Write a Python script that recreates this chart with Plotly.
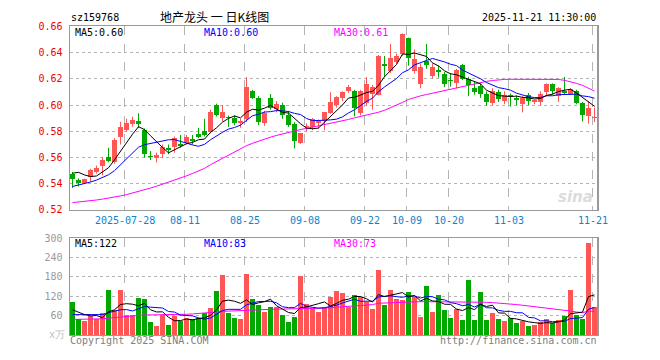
import plotly.graph_objects as go
import pandas as pd

# ---------------- data ----------------
opens = [.5477,.5428,.5409,.5453,.5490,.5532,.5600,.5563,.5753,.5809,
         .5858,.5875,.5809,.5613,.5595,.5625,.5669,.5679,.5706,.5711,
         .5743,.5777,.5804,.5797,.5998,.5900,.5912,.5900,.5866,.5895,
         .6104,.6055,.5866,.6055,.5973,.5998,.5924,.5858,.5711,.5829,
         .5834,.5865,.5876,.5939,.5998,.6055,.6104,.6104,.5939,.6018,
         .6087,.6079,.6313,.6259,.6325,.6386,.6509,.6263,.6158,.6332,
         .6221,.6267,.6239,.6190,.6165,.6305,.6202,.6132,.6146,.6087,
         .6018,.6096,.6030,.6075,.6052,.6006,.6079,.6025,.6023,.6096,
         .6158,.6067,.6104,.6087,.6109,.6018,.5920,.5902]
highs = [.5490,.5441,.5438,.5514,.5539,.5600,.5674,.5748,.5871,.5895,
         .5912,.5937,.5821,.5649,.5637,.5699,.5699,.5760,.5772,.5772,
         .5772,.5826,.5895,.5964,.6010,.5998,.5920,.5920,.5895,.6214,
         .6116,.6067,.5956,.6084,.6030,.6018,.5956,.5870,.5784,.5860,
         .5901,.5890,.5944,.6097,.6067,.6104,.6153,.6116,.6116,.6214,
         .6153,.6381,.6374,.6465,.6391,.6546,.6514,.6423,.6317,.6465,
         .6317,.6300,.6251,.6244,.6276,.6313,.6214,.6178,.6165,.6104,
         .6128,.6116,.6104,.6087,.6072,.6067,.6092,.6042,.6104,.6165,
         .6165,.6136,.6214,.6128,.6116,.6023,.6030,.5981]
lows = [.5367,.5379,.5399,.5416,.5477,.5465,.5563,.5551,.5699,.5797,
        .5834,.5826,.5600,.5581,.5563,.5595,.5625,.5637,.5674,.5699,
        .5699,.5748,.5760,.5784,.5912,.5875,.5834,.5846,.5826,.5870,
        .6047,.5846,.5841,.5964,.5944,.5895,.5834,.5669,.5703,.5797,
        .5809,.5820,.5809,.5932,.5981,.6030,.6092,.5915,.5920,.5993,
        .5964,.6072,.6214,.6244,.6313,.6374,.6300,.6239,.6128,.6276,
        .6202,.6209,.6136,.6141,.6128,.6190,.6067,.6079,.6055,.5993,
        .5998,.6023,.6006,.5988,.5998,.5944,.5998,.6006,.5993,.6067,
        .6079,.6023,.6079,.6079,.6006,.5875,.5858,.5870]
closes = [.5433,.5404,.5433,.5502,.5522,.5581,.5571,.5735,.5834,.5863,
          .5883,.5858,.5625,.5600,.5620,.5679,.5654,.5748,.5691,.5753,
          .5728,.5757,.5772,.5949,.5924,.5944,.5900,.5866,.5875,.6141,
          .6055,.5870,.5939,.5981,.6005,.5924,.5846,.5728,.5784,.5841,
          .5895,.5876,.5944,.6023,.6062,.6097,.6141,.5974,.6104,.6160,
          .6141,.6374,.6298,.6357,.6374,.6539,.6362,.6350,.6293,.6307,
          .6293,.6249,.6160,.6182,.6267,.6202,.6155,.6097,.6087,.6023,
          .6104,.6047,.6079,.6068,.6042,.6055,.6030,.6035,.6087,.6158,
          .6104,.6128,.6089,.6121,.6018,.5925,.5974,.5912]
volumes = [103,48,44,58,48,69,139,76,139,61,
           61,115,112,40,28,63,31,58,43,52,
           49,52,69,82,136,184,68,52,49,190,
           112,94,70,88,88,61,40,55,181,96,
           82,70,82,117,137,130,87,124,117,102,
           79,202,94,139,112,109,133,118,55,151,
           70,124,76,52,79,46,169,46,133,46,
           67,49,43,52,37,43,28,31,40,49,
           37,46,58,139,61,49,286,85]

# moving-average values visible at the start of the window (history not shown)
ma5_head = [.5480,.5487,.5467,.5455]
ma10_head = [.5379,.5390,.5400,.5413,.5428,.5447,.5468,.5500,.5545]
ma30_line = [.5256,.5260,.5265,.5270,.5276,.5283,.5290,.5298,.5307,.5317,
             .5328,.5340,.5353,.5367,.5381,.5396,.5411,.5427,.5443,.5460,
             .5478,.5497,.5517,.5545,.5570,.5595,.5620,.5645,.5668,.5690,
             .5708,.5725,.5740,.5755,.5768,.5780,.5792,.5803,.5813,.5822,
             .5831,.5840,.5849,.5858,.5868,.5878,.5890,.5902,.5912,.5922,
             .5932,.5945,.5960,.5978,.5998,.6020,.6042,.6058,.6070,.6080,
             .6090,.6100,.6110,.6120,.6132,.6143,.6155,.6165,.6173,.6180,
             .6187,.6192,.6195,.6196,.6196,.6196,.6196,.6196,.6196,.6196,
             .6196,.6195,.6188,.6178,.6165,.6150,.6130,.6106]
vma5_head = [78,71,63,59]
vma10_head = [63,63,64,65,64,63,69,74,78]
vma30_line = [48,48,48,49,49,50,52,54,56,58,
              60,61,62,62,62,63,63,63,64,64,
              65,66,67,69,71,73,74,75,76,77,
              78,79,79,80,80,80,81,81,81,82,
              82,82,83,84,86,88,89,90,91,92,
              94,98,99,100,101,102,103,103,103,103,
              103,103,103,103,103,103,103,103,102,101,
              100,99,97,96,94,92,90,88,86,84,
              82,79,77,74,71,69,74,73]

# values printed in the legend texts of the reference
price_ma_now = ["0.60", "0.60", "0.61"]
vol_ma_now = ["122", "83", "73"]

tick_idx = [9, 19, 29, 39, 49, 56, 63, 73, 87]
tick_labels = ["2025-07-28", "08-11", "08-25", "09-08", "09-22",
               "10-09", "10-20", "11-03", "11-21"]
price_ticks = [0.52, 0.54, 0.56, 0.58, 0.60, 0.62, 0.64, 0.66]
vol_ticks = [60, 120, 180, 240, 300]

# ---------------- derived ----------------
n = len(closes)
idx = list(range(n))
cs = pd.Series(closes)
vs = pd.Series(volumes, dtype=float)
ma5 = cs.rolling(5).mean().tolist()
ma10 = cs.rolling(10).mean().tolist()
ma5[:len(ma5_head)] = ma5_head
ma10[:len(ma10_head)] = ma10_head
vma5 = vs.rolling(5).mean().tolist()
vma10 = vs.rolling(10).mean().tolist()
vma5[:len(vma5_head)] = vma5_head
vma10[:len(vma10_head)] = vma10_head

UP = "#ff5555"
DN = "#00a800"
is_up = [c >= o for o, c in zip(opens, closes)]
colors = [UP if u else DN for u in is_up]
MIN_BODY = 0.0008
body_base = [min(o, c) for o, c in zip(opens, closes)]
body_h = [max(abs(c - o), MIN_BODY) for o, c in zip(opens, closes)]

W, H = 660, 360
L, R = 70, 597
PT, PB = 21, 211
VT, VB = 240, 340.3

def px(x):
    return x / W

def py(y):
    return 1 - y / H

fig = go.Figure()

# wicks
for flag, col in ((True, UP), (False, DN)):
    wx, wy = [], []
    for i in idx:
        if is_up[i] == flag:
            wx += [i, i, None]
            wy += [lows[i], highs[i], None]
    fig.add_trace(go.Scatter(x=wx, y=wy, mode="lines", line=dict(color=col, width=1),
                             hoverinfo="skip", showlegend=False, xaxis="x", yaxis="y"))

# bodies
fig.add_trace(go.Bar(x=idx, y=body_h, base=body_base, width=0.8,
                     marker=dict(color=colors, line=dict(width=0)),
                     hoverinfo="skip", showlegend=False, xaxis="x", yaxis="y"))

# price MAs
for arr, col in ((ma30_line, "#ff00ff"), (ma10, "#0000ff"), (ma5, "#000000")):
    fig.add_trace(go.Scatter(x=idx, y=arr, mode="lines", line=dict(color=col, width=1),
                             hoverinfo="skip", showlegend=False, xaxis="x", yaxis="y"))

# volume bars
fig.add_trace(go.Bar(x=idx, y=volumes, width=0.8,
                     marker=dict(color=colors, line=dict(width=0)),
                     hoverinfo="skip", showlegend=False, xaxis="x2", yaxis="y2"))
for arr, col in ((vma30_line, "#ff00ff"), (vma10, "#0000ff"), (vma5, "#000000")):
    fig.add_trace(go.Scatter(x=idx, y=arr, mode="lines", line=dict(color=col, width=1),
                             hoverinfo="skip", showlegend=False, xaxis="x2", yaxis="y2"))

MONO = "DejaVu Sans Mono"
grid_x = [k - 1/3 for k in tick_idx]
xr = [(L - 72.5) / 6, (R - 72.5) / 6]
axis_common = dict(showline=True, mirror=True, linecolor="#999999", linewidth=1.5,
                   zeroline=False, ticks="")

fig.update_layout(
    width=W, height=H, margin=dict(l=0, r=0, t=0, b=0, pad=0),
    paper_bgcolor="white", plot_bgcolor="white",
    barmode="overlay", bargap=0, showlegend=False, hovermode=False,
    font=dict(family=MONO, size=10, color="#000"),
    xaxis=dict(domain=[px(L), px(R)], range=xr, anchor="y",
               tickvals=grid_x, showticklabels=False,
               showgrid=True, gridcolor="#b4b4b4", griddash="dash", gridwidth=1,
               **axis_common),
    xaxis2=dict(domain=[px(L), px(R)], range=xr, anchor="y2",
                tickvals=grid_x, showticklabels=False,
                showgrid=True, gridcolor="#b4b4b4", griddash="dash", gridwidth=1,
                **axis_common),
    yaxis=dict(domain=[py(PB), py(PT)], range=[0.52, 0.66], anchor="x",
               tickvals=price_ticks, tickformat=".2f",
               tickfont=dict(family=MONO, size=10, color="#ee0000"),
               showgrid=True, gridcolor="#b4b4b4", griddash="dot", gridwidth=1,
               ticklabelstandoff=4, **axis_common),
    yaxis2=dict(domain=[py(VB), py(VT)], range=[0, 300], anchor="x2",
                tickvals=vol_ticks,
                tickfont=dict(family=MONO, size=10, color="#999999"),
                showgrid=True, gridcolor="#b4b4b4", griddash="dot", gridwidth=1,
                ticklabelstandoff=4, **axis_common),
)

def note(text, x, y, color="#000", size=10, xanchor="left", family=MONO, xref="paper"):
    fig.add_annotation(text=text, x=px(x) if xref == "paper" else x, y=py(y),
                       xref=xref, yref="paper",
                       xanchor=xanchor, yanchor="middle", showarrow=False,
                       borderpad=0,
                       font=dict(family=family, size=size, color=color))

# date labels under the price panel, centred on the dashed grid lines
for gx, lab in zip(grid_x, tick_labels):
    note(lab, gx, 222, color="#0a84d0", xanchor="center", xref="x")

note("sz159768", 70, 12)
note("地产龙头 一 日K线图", 214, 11, size=12, xanchor="center",
     family="Noto Sans CJK SC")
note("2025-11-21 11:30:00", 597, 12, xanchor="right")

note("MA5:" + price_ma_now[0], 74, 27)
note("MA10:" + price_ma_now[1], 203, 27, color="#0000ff")
note("MA30:" + price_ma_now[2], 333, 27, color="#ff00ff")

note("MA5:" + vol_ma_now[0], 74, 246)
note("MA10:" + vol_ma_now[1], 203, 246, color="#0000ff")
note("MA30:" + vol_ma_now[2], 333, 246, color="#ff00ff")

note("x万", 66, 340, color="#c0c0c0", xanchor="right")
note("Copyright 2025 SINA.COM", 69, 346, color="#808080")
note("http://finance.sina.com.cn", 598, 346, color="#808080", xanchor="right")
note("<b><i>sina</i></b>", 594, 198, color="#dcdcdc", size=15, xanchor="right",
     family="DejaVu Sans")

fig.write_html("out.html",
               config={"displayModeBar": False, "staticPlot": True},
               post_script="document.body.style.margin='0px';"
                           "document.body.style.overflow='hidden';")
